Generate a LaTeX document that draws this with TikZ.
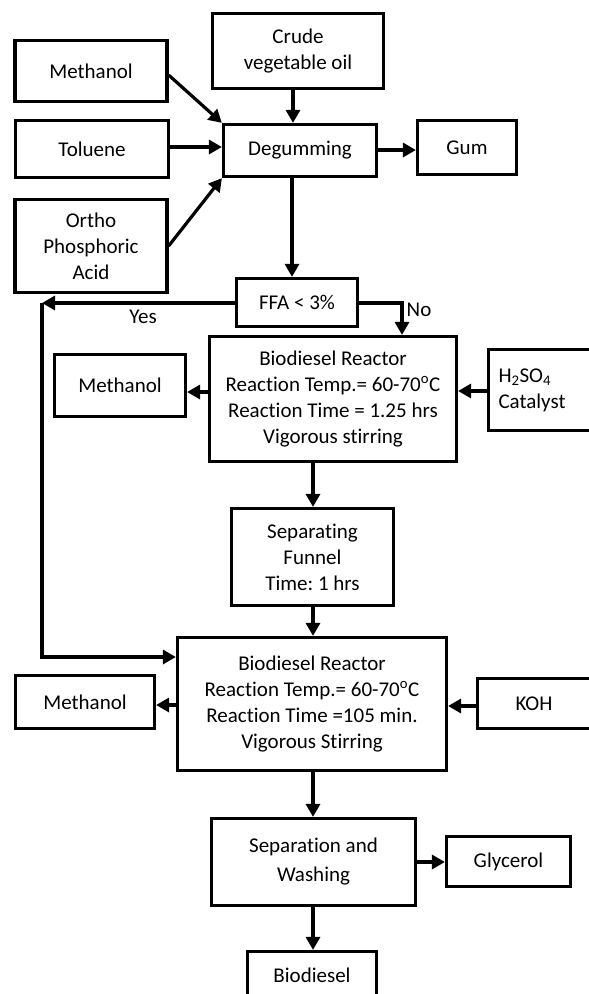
\documentclass[tikz,border=0pt]{standalone}
\usepackage{fontspec}
\setmainfont{Carlito}[Ligatures=NoCommon]
\usetikzlibrary{arrows.meta,calc}
\frenchspacing
\begin{document}
\begin{tikzpicture}[x=1pt,y=1pt,
  box/.style={draw, line width=3.2pt, align=center, inner sep=2pt, font=\fontsize{21}{26}\selectfont},
  arr/.style={line width=3.2pt, -{Triangle[length=13pt,width=14pt]}},
  lbl/.style={font=\fontsize{21}{26}\selectfont}]
\fill[white] (0,0) rectangle (589,-994);
\useasboundingbox (0,0) rectangle (589,-994);

% nodes
\node[box, minimum width=171, minimum height=75] (crude) at (298,-51) {Crude\\vegetable oil};
\node[box, minimum width=152, minimum height=61] (meth1) at (91,-71) {Methanol};
\node[box, minimum width=153, minimum height=57] (tol) at (92,-149) {Toluene};
\node[box, minimum width=153, minimum height=52] (degum) at (300,-150.5) {Degumming};
\node[box, minimum width=99, minimum height=54] (gum) at (467,-147.5) {Gum};
\node[box, minimum width=152, minimum height=93] (ortho) at (91,-246) {Ortho\\Phosphoric\\Acid};
\node[box, minimum width=121, minimum height=48] (ffa) at (297,-302.5) {FFA {<} 3\%};
\node[box, minimum width=131, minimum height=62] (meth2) at (120,-385.5) {Methanol};
\node[box, minimum width=247, minimum height=125] (r1) at (333,-399)
  {Biodiesel Reactor\\Reaction Temp.= 60-70\textsuperscript{o}C\\Reaction Time = 1.25 hrs\\Vigorous stirring};
\node[box, inner xsep=10pt, text width=82pt, align=left, minimum height=81] (h2so4) at (539.5,-390)
  {H\textsubscript{2}SO\textsubscript{4}\\Catalyst};
\node[box, minimum width=162, minimum height=97] (sep) at (312.5,-557) {Separating\\Funnel\\Time: 1 hrs};
\node[box, minimum width=269, minimum height=133] (r2) at (312,-704)
  {Biodiesel Reactor\\Reaction Temp.= 60-70\textsuperscript{o}C\\Reaction Time =105 min.\\Vigorous Stirring};
\node[box, minimum width=139, minimum height=53] (meth3) at (85,-702) {Methanol};
\node[box, minimum width=113, minimum height=50] (koh) at (534,-703.5) {KOH};
\node[box, minimum width=204, minimum height=87, font=\fontsize{21}{29}\selectfont] (sw) at (313.5,-862) {Separation and\\Washing};
\node[box, minimum width=124, minimum height=50] (gly) at (508.5,-861.5) {Glycerol};
\node[box, minimum width=129, minimum height=47] (bio) at (312,-975) {Biodiesel};

\node[lbl] (yes) at (143,-317) {Yes};
\node[lbl] (no) at (419,-310) {No};

% helper coordinates
\coordinate (xa) at (293,0);
\coordinate (xb) at (292,0);
\coordinate (xc) at (313,0);
\coordinate (xn) at (402,0);
\coordinate (yc) at (42,-303);
\coordinate (yb) at (42,-657);
\coordinate (y1) at (0,-392);
\coordinate (y2) at (0,-391);
\coordinate (y3) at (0,-705);
\coordinate (y4) at (0,-706);
\coordinate (y5) at (0,-862);
\coordinate (y6) at (0,-147);
\coordinate (y7) at (0,-150);

% connectors
\draw[arr] ($(meth1.east)+(0,-4)$) -- (degum.north west);
\draw[arr] (tol.east |- y6) -- (degum.west |- y6);
\draw[arr] (ortho.east) -- (degum.south west);
\draw[arr] (crude.south -| xa) -- (degum.north -| xa);
\draw[arr] (degum.east |- y7) -- (gum.west |- y7);
\draw[arr] (degum.south -| xb) -- (ffa.north -| xb);
\draw[arr] (ffa.west |- yc) -- (yc);
\draw[arr] (yc) -- (yb) -- (yb -| r2.west);
\draw[arr] (ffa.east |- yc) -| (xn |- r1.north);
\draw[arr] (r1.west |- y1) -- (meth2.east |- y1);
\draw[arr] (h2so4.west |- y2) -- (r1.east |- y2);
\draw[arr] (r1.south -| xc) -- (sep.north -| xc);
\draw[arr] (sep.south -| xc) -- (r2.north -| xc);
\draw[arr] (r2.west |- y3) -- (meth3.east |- y3);
\draw[arr] (koh.west |- y4) -- (r2.east |- y4);
\draw[arr] (r2.south -| xc) -- (sw.north -| xc);
\draw[arr] (sw.east |- y5) -- (gly.west |- y5);
\draw[arr] (sw.south -| xc) -- (bio.north -| xc);
\end{tikzpicture}
\end{document}
